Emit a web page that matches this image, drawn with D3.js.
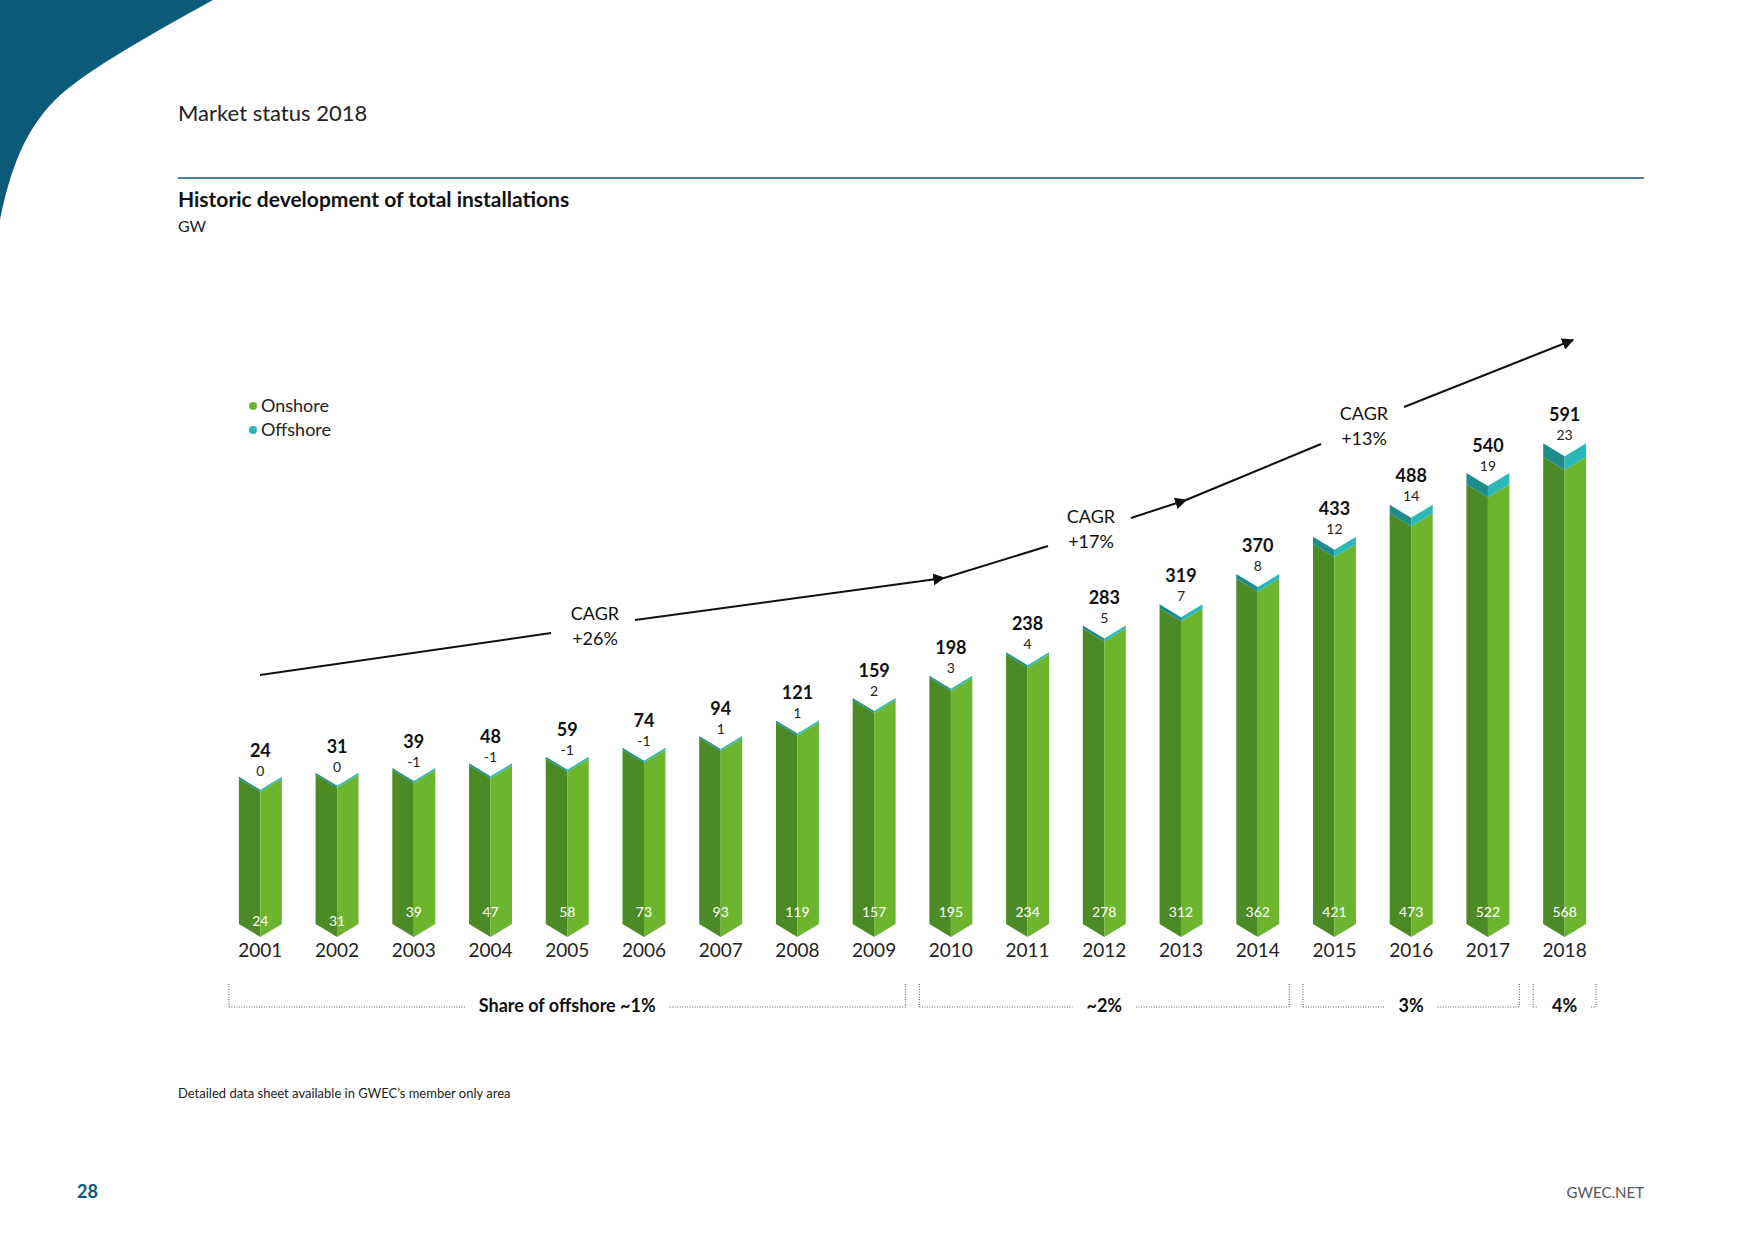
<!DOCTYPE html>
<html><head><meta charset="utf-8">
<script src="https://d3js.org/d3.v7.min.js"></script>
<style>body{margin:0;background:#fff}text{font-family:Lato,"Open Sans",sans-serif}</style>
</head><body><svg id="c" width="1754" height="1240"></svg>
<script>
const years=["2001","2002","2003","2004","2005","2006","2007","2008","2009","2010","2011","2012","2013","2014","2015","2016","2017","2018"];
const totals=[24,31,39,48,59,74,94,121,159,198,238,283,319,370,433,488,540,591];
const onshore=[24,31,39,47,58,73,93,119,157,195,234,278,312,362,421,473,522,568];
const offshore=[0,0,-1,-1,-1,-1,1,1,2,3,4,5,7,8,12,14,19,23];
const shares=[{from:"2001",to:"2009",label:"Share of offshore ~1%"},{from:"2010",to:"2014",label:"~2%"},{from:"2015",to:"2017",label:"3%"},{from:"2018",to:"2018",label:"4%"}];
const cagrs=[{label:"+26%"},{label:"+17%"},{label:"+13%"}];

const svg=d3.select("#c");
svg.append("path").attr("d","M0,0 L213,0 C140,40 80,75 55,100 C25,130 10,170 0,220 Z").attr("fill","#0b5a78");
svg.append("text").attr("x",178).attr("y",121).attr("font-size",22).attr("fill","#222").text("Market status 2018");
svg.append("line").attr("x1",178).attr("x2",1644).attr("y1",178).attr("y2",178).attr("stroke","#0b5a78").attr("stroke-width",1.3);
svg.append("text").attr("x",178).attr("y",207).attr("font-size",21).attr("font-weight","bold").attr("fill","#111").text("Historic development of total installations");
svg.append("text").attr("x",178).attr("y",232).attr("font-size",16).attr("fill","#222").text("GW");
[["Onshore","#6db52f"],["Offshore","#2ab5b5"]].forEach((d,i)=>{
  svg.append("circle").attr("cx",253).attr("cy",406+i*24).attr("r",4).attr("fill",d[1]);
  svg.append("text").attr("x",261).attr("y",412+i*24).attr("font-size",18).attr("fill","#222").text(d[0]);
});

const x=d3.scaleBand().domain(years).range([222,1603]).paddingInner(0.44).paddingOuter(0.22);
const y=d3.scaleLinear().domain([0,600]).range([793,438]);
const base=924, dip=13, bw=x.bandwidth();
const g=svg.append("g");
years.forEach((yr,i)=>{
  const x0=x(yr), xc=x0+bw/2, x1=x0+bw;
  const tOn=y(onshore[i]), tTot=y(totals[i]);
  const cap=Math.max(2,y(0)-y(Math.max(offshore[i],0)));
  const tCap=tOn-cap;
  g.append("path").attr("d",`M${x0},${tOn} L${xc},${tOn+dip} L${xc},${base+dip} L${x0},${base} Z`).attr("fill","#4b8a24");
  g.append("path").attr("d",`M${xc},${tOn+dip} L${x1},${tOn} L${x1},${base} L${xc},${base+dip} Z`).attr("fill","#6db52f");
  g.append("path").attr("d",`M${x0},${tCap} L${xc},${tCap+dip} L${xc},${tOn+dip} L${x0},${tOn} Z`).attr("fill","#1f8c8c");
  g.append("path").attr("d",`M${xc},${tCap+dip} L${x1},${tCap} L${x1},${tOn} L${xc},${tOn+dip} Z`).attr("fill","#2bb8b8");
  g.append("text").attr("x",xc).attr("y",tTot-22).attr("text-anchor","middle").attr("font-size",18).attr("font-weight","bold").attr("fill","#111").text(totals[i]);
  g.append("text").attr("x",xc).attr("y",tTot-3).attr("text-anchor","middle").attr("font-size",14).attr("fill","#222").text(offshore[i]);
  g.append("text").attr("x",xc).attr("y",i<2?926:917).attr("text-anchor","middle").attr("font-size",14).attr("fill","#fff").text(onshore[i]);
  g.append("text").attr("x",xc).attr("y",957).attr("text-anchor","middle").attr("font-size",19).attr("fill","#222").text(yr);
});
svg.append("defs").append("marker").attr("id","ah").attr("viewBox","0 0 10 10").attr("refX",9).attr("refY",5).attr("markerWidth",6).attr("markerHeight",6).attr("orient","auto").append("path").attr("d","M0,0 L10,5 L0,10 Z").attr("fill","#111");
const segs=[[[260,675],[551,633],null],[[635,620],[944,578],1],[[944,578],[1048,546],null],[[1131,518],[1186,500],1],[[1186,500],[1321,444],null],[[1404,407],[1573,340],1]];
segs.forEach(s=>{const l=svg.append("line").attr("x1",s[0][0]).attr("y1",s[0][1]).attr("x2",s[1][0]).attr("y2",s[1][1]).attr("stroke","#111").attr("stroke-width",2);if(s[2])l.attr("marker-end","url(#ah)");});
[[595,620],[1091,523],[1364,420]].forEach((p,i)=>{
  svg.append("text").attr("x",p[0]).attr("y",p[1]).attr("text-anchor","middle").attr("font-size",18).attr("fill","#111").text("CAGR");
  svg.append("text").attr("x",p[0]).attr("y",p[1]+25).attr("text-anchor","middle").attr("font-size",18).attr("fill","#111").text(cagrs[i].label);
});
shares.forEach(s=>{
  const a=x(s.from)-10, b=x(s.to)+bw+10, m=(a+b)/2, yy=1007;
  const t=svg.append("text").attr("x",m).attr("y",yy+5).attr("text-anchor","middle").attr("font-size",18).attr("font-weight","bold").attr("fill","#111").text(s.label);
  const w=t.node().getComputedTextLength()/2+14;
  const st=l=>l.attr("stroke","#555").attr("stroke-width",1).attr("stroke-dasharray","1,1.5");
  st(svg.append("line").attr("x1",a).attr("x2",m-w).attr("y1",yy).attr("y2",yy));
  st(svg.append("line").attr("x1",m+w).attr("x2",b).attr("y1",yy).attr("y2",yy));
  st(svg.append("line").attr("x1",a).attr("x2",a).attr("y1",984).attr("y2",yy));
  st(svg.append("line").attr("x1",b).attr("x2",b).attr("y1",984).attr("y2",yy));
});
svg.append("text").attr("x",178).attr("y",1098).attr("font-size",13).attr("fill","#222").text("Detailed data sheet available in GWEC’s member only area");
svg.append("text").attr("x",77).attr("y",1198).attr("font-size",18).attr("font-weight","bold").attr("fill","#0b5a78").text("28");
svg.append("text").attr("x",1644).attr("y",1198).attr("text-anchor","end").attr("font-size",15).attr("fill","#555").text("GWEC.NET");
</script></body></html>
